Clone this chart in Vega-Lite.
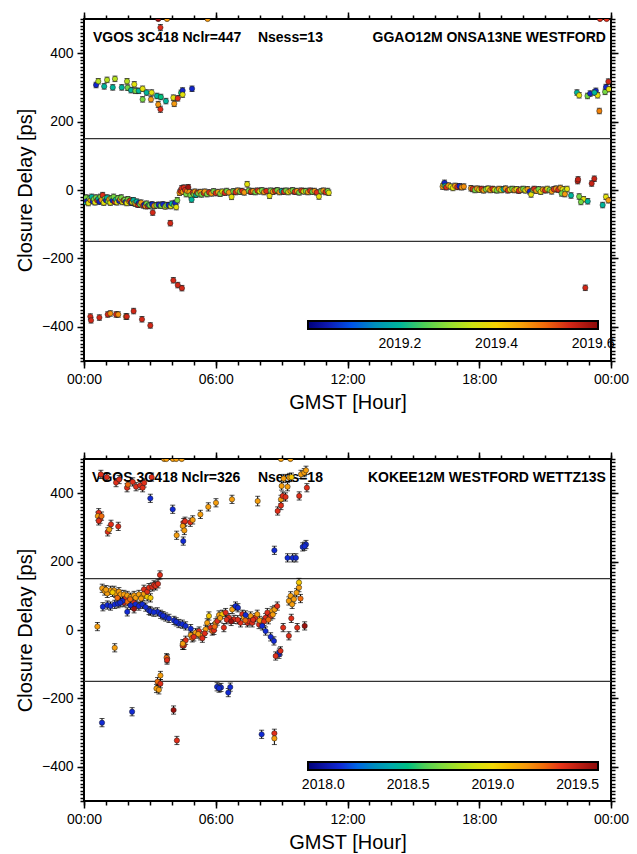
{
"$schema":"https://vega.github.io/schema/vega-lite/v6.json",
"background":"white",
"padding":{"left":14,"top":10,"right":0,"bottom":0},
"spacing":98,
"bounds":"flush",
"config":{
 "view":{"stroke":"black","strokeWidth":2},
 "axis":{"domain":false,"labelFlush":false,"grid":false,"labelFont":"Liberation Sans","labelFontSize":14,"labelColor":"black","titleFont":"Liberation Sans","titleFontSize":20,"titleFontWeight":"normal","titleColor":"black"},
 "legend":{"labelFont":"Liberation Sans","labelFontSize":14,"labelColor":"black"},
 "text":{"font":"Liberation Sans","fontWeight":"bold","fontSize":14,"color":"black"}
},
"resolve":{"scale":{"color":"independent"},"legend":{"color":"independent"}},
"datasets":{
"p1":[
{"h":0.55,"v":307,"e":8,"t":2019.07},{"h":0.65,"v":318,"e":8,"t":2019.33},{"h":0.92,"v":303,"e":8,"t":2019.2},{"h":1.05,"v":322,"e":8,"t":2019.33},{"h":1.31,"v":300,"e":8,"t":2019.2},{"h":1.41,"v":325,"e":8,"t":2019.33},{"h":1.72,"v":300,"e":8,"t":2019.2},{"h":1.96,"v":318,"e":8,"t":2019.33},{"h":1.99,"v":299,"e":8,"t":2019.28},{"h":2.14,"v":292,"e":8,"t":2019.2},{"h":2.29,"v":309,"e":8,"t":2019.37},{"h":2.34,"v":290,"e":8,"t":2019.28},{"h":2.49,"v":290,"e":8,"t":2019.2},{"h":2.67,"v":296,"e":8,"t":2019.37},{"h":2.67,"v":265,"e":8,"t":2019.28},{"h":2.85,"v":285,"e":8,"t":2019.2},{"h":3.05,"v":265,"e":8,"t":2019.46},{"h":3.08,"v":285,"e":8,"t":2019.37},{"h":3.32,"v":275,"e":8,"t":2019.2},{"h":3.38,"v":250,"e":9,"t":2019.46},{"h":3.48,"v":236,"e":9,"t":2019.54},{"h":3.5,"v":272,"e":8,"t":2019.22},{"h":3.73,"v":260,"e":8,"t":2019.2},{"h":4.07,"v":270,"e":8,"t":2019.37},{"h":4.11,"v":252,"e":8,"t":2019.46},{"h":4.27,"v":268,"e":8,"t":2019.54},{"h":4.42,"v":284,"e":8,"t":2019.22},{"h":4.49,"v":291,"e":8,"t":2019.07},{"h":4.49,"v":279,"e":8,"t":2019.37},{"h":4.92,"v":296,"e":8,"t":2019.07},
{"h":3.38,"v":500,"e":0,"t":2019.6},{"h":3.48,"v":475,"e":9,"t":2019.54},{"h":3.78,"v":500,"e":0,"t":2019.46},{"h":5.63,"v":500,"e":0,"t":2019.46},{"h":23.5,"v":500,"e":0,"t":2019.54},{"h":23.8,"v":500,"e":0,"t":2019.54},
{"h":22.45,"v":285,"e":8,"t":2019.2},{"h":22.55,"v":277,"e":8,"t":2019.37},{"h":22.93,"v":275,"e":8,"t":2019.28},{"h":23.05,"v":282,"e":8,"t":2019.07},{"h":23.31,"v":290,"e":8,"t":2019.07},{"h":23.39,"v":277,"e":8,"t":2019.37},{"h":23.25,"v":285,"e":8,"t":2019.2},{"h":23.47,"v":231,"e":8,"t":2019.48},{"h":23.73,"v":287,"e":8,"t":2019.28},{"h":23.77,"v":301,"e":8,"t":2019.07},{"h":23.88,"v":317,"e":8,"t":2019.55},{"h":23.9,"v":295,"e":8,"t":2019.37},
{"h":0.29,"v":-370,"e":8,"t":2019.55},{"h":0.32,"v":-381,"e":8,"t":2019.55},{"h":0.7,"v":-373,"e":8,"t":2019.55},{"h":1.08,"v":-364,"e":8,"t":2019.55},{"h":1.2,"v":-361,"e":8,"t":2019.47},{"h":1.46,"v":-364,"e":8,"t":2019.55},{"h":1.56,"v":-364,"e":8,"t":2019.47},{"h":1.91,"v":-370,"e":8,"t":2019.47},{"h":1.95,"v":-370,"e":8,"t":2019.55},{"h":2.26,"v":-354,"e":8,"t":2019.55},{"h":2.64,"v":-378,"e":8,"t":2019.55},{"h":3.02,"v":-396,"e":8,"t":2019.55},{"h":4.07,"v":-264,"e":8,"t":2019.55},{"h":4.27,"v":-278,"e":8,"t":2019.55},{"h":4.46,"v":-287,"e":8,"t":2019.55},{"h":22.83,"v":-286,"e":8,"t":2019.55},
{"h":3.13,"v":-66,"e":8,"t":2019.55},{"h":3.93,"v":-97,"e":8,"t":2019.55},
{"h":0.02,"v":-35,"e":8,"t":2019.2},{"h":0.05,"v":-28,"e":8,"t":2019.07},{"h":0.1,"v":-22,"e":8,"t":2019.28},{"h":0.15,"v":-32,"e":8,"t":2019.07},{"h":0.2,"v":-38,"e":8,"t":2019.37},{"h":0.25,"v":-25,"e":8,"t":2019.28},{"h":0.3,"v":-30,"e":8,"t":2019.46},{"h":0.35,"v":-20,"e":8,"t":2019.2},{"h":0.4,"v":-33,"e":8,"t":2019.07},{"h":0.45,"v":-27,"e":8,"t":2019.28},{"h":0.5,"v":-36,"e":8,"t":2019.37},{"h":0.55,"v":-22,"e":8,"t":2019.28},{"h":0.6,"v":-30,"e":8,"t":2019.54},{"h":0.65,"v":-26,"e":8,"t":2019.2},{"h":0.7,"v":-34,"e":8,"t":2019.07},{"h":0.75,"v":-20,"e":8,"t":2019.28},{"h":0.8,"v":-29,"e":8,"t":2019.46},{"h":0.85,"v":-15,"e":8,"t":2019.54},{"h":0.9,"v":-37,"e":8,"t":2019.37},{"h":0.95,"v":-25,"e":8,"t":2019.28},{"h":1.0,"v":-30,"e":8,"t":2019.07},{"h":1.05,"v":-22,"e":8,"t":2019.2},{"h":1.1,"v":-33,"e":8,"t":2019.28},{"h":1.15,"v":-27,"e":8,"t":2019.46},{"h":1.2,"v":-37,"e":8,"t":2019.37},{"h":1.25,"v":-24,"e":8,"t":2019.28},{"h":1.3,"v":-31,"e":8,"t":2019.07},{"h":1.35,"v":-20,"e":8,"t":2019.28},{"h":1.4,"v":-34,"e":8,"t":2019.54},{"h":1.45,"v":-28,"e":8,"t":2019.2},{"h":1.5,"v":-36,"e":8,"t":2019.37},{"h":1.55,"v":-24,"e":8,"t":2019.28},{"h":1.6,"v":-32,"e":8,"t":2019.07},{"h":1.65,"v":-27,"e":8,"t":2019.46},{"h":1.7,"v":-22,"e":8,"t":2019.28},{"h":1.75,"v":-35,"e":8,"t":2019.37},{"h":1.8,"v":-30,"e":8,"t":2019.54},{"h":1.85,"v":-29,"e":8,"t":2019.28},{"h":1.9,"v":-35,"e":8,"t":2019.07},{"h":1.95,"v":-38,"e":8,"t":2019.37},{"h":2.0,"v":-27,"e":8,"t":2019.28},{"h":2.05,"v":-33,"e":8,"t":2019.46},{"h":2.1,"v":-31,"e":8,"t":2019.54},{"h":2.15,"v":-37,"e":8,"t":2019.07},{"h":2.2,"v":-36,"e":8,"t":2019.37},{"h":2.25,"v":-30,"e":8,"t":2019.2},{"h":2.3,"v":-38,"e":8,"t":2019.28},{"h":2.35,"v":-40,"e":8,"t":2019.46},{"h":2.4,"v":-34,"e":8,"t":2019.2},{"h":2.45,"v":-43,"e":8,"t":2019.54},{"h":2.5,"v":-38,"e":8,"t":2019.07},{"h":2.55,"v":-42,"e":8,"t":2019.28},{"h":2.6,"v":-37,"e":8,"t":2019.46},{"h":2.7,"v":-45,"e":8,"t":2019.54},{"h":2.75,"v":-43,"e":8,"t":2019.07},{"h":2.8,"v":-47,"e":8,"t":2019.46},{"h":2.85,"v":-40,"e":8,"t":2019.28},{"h":2.9,"v":-47,"e":8,"t":2019.54},{"h":2.95,"v":-44,"e":8,"t":2019.2},{"h":3.0,"v":-45,"e":8,"t":2019.28},{"h":3.1,"v":-42,"e":8,"t":2019.07},{"h":3.2,"v":-46,"e":8,"t":2019.46},{"h":3.3,"v":-45,"e":8,"t":2019.28},{"h":3.4,"v":-43,"e":8,"t":2019.07},{"h":3.5,"v":-46,"e":8,"t":2019.28},{"h":3.6,"v":-42,"e":8,"t":2019.07},{"h":3.7,"v":-48,"e":8,"t":2019.37},{"h":3.75,"v":-45,"e":8,"t":2019.28},{"h":3.85,"v":-44,"e":8,"t":2019.07},{"h":3.95,"v":-47,"e":8,"t":2019.37},{"h":4.0,"v":-40,"e":8,"t":2019.2},{"h":4.1,"v":-44,"e":8,"t":2019.28},{"h":4.15,"v":-38,"e":8,"t":2019.07},{"h":4.2,"v":-50,"e":8,"t":2019.37},{"h":4.25,"v":-30,"e":8,"t":2019.28},
{"h":4.35,"v":-8,"e":8,"t":2019.46},{"h":4.4,"v":-3,"e":8,"t":2019.54},{"h":4.45,"v":5,"e":8,"t":2019.54},{"h":4.5,"v":-5,"e":8,"t":2019.46},{"h":4.55,"v":7,"e":8,"t":2019.54},{"h":4.6,"v":0,"e":8,"t":2019.54},{"h":4.65,"v":-12,"e":8,"t":2019.28},{"h":4.7,"v":-3,"e":8,"t":2019.46},{"h":4.75,"v":8,"e":8,"t":2019.59},{"h":4.8,"v":-6,"e":8,"t":2019.46},{"h":4.85,"v":-15,"e":8,"t":2019.28},{"h":4.9,"v":-28,"e":8,"t":2019.2},{"h":4.95,"v":-8,"e":8,"t":2019.54},{"h":5.0,"v":-12,"e":8,"t":2019.28},{"h":5.05,"v":-5,"e":8,"t":2019.46},{"h":5.1,"v":-14,"e":8,"t":2019.2},{"h":5.15,"v":-8,"e":8,"t":2019.54},{"h":5.2,"v":-10,"e":8,"t":2019.28},{"h":5.3,"v":-6,"e":8,"t":2019.46},{"h":5.35,"v":-13,"e":8,"t":2019.28},{"h":5.45,"v":-9,"e":8,"t":2019.54},{"h":5.5,"v":-5,"e":8,"t":2019.46},{"h":5.6,"v":-12,"e":8,"t":2019.28},{"h":5.7,"v":-7,"e":8,"t":2019.54},{"h":5.8,"v":-10,"e":8,"t":2019.46},{"h":5.9,"v":-4,"e":8,"t":2019.28},{"h":6.0,"v":-9,"e":8,"t":2019.54},{"h":6.1,"v":-6,"e":8,"t":2019.46},{"h":6.2,"v":-11,"e":8,"t":2019.28},{"h":6.3,"v":-5,"e":8,"t":2019.37},{"h":6.4,"v":-8,"e":8,"t":2019.54},{"h":6.5,"v":-3,"e":8,"t":2019.28},{"h":6.6,"v":-7,"e":8,"t":2019.46},{"h":6.72,"v":-20,"e":8,"t":2019.37},{"h":6.8,"v":-4,"e":8,"t":2019.28},{"h":6.9,"v":-6,"e":8,"t":2019.54},{"h":7.0,"v":-2,"e":8,"t":2019.46},{"h":7.1,"v":-5,"e":8,"t":2019.28},{"h":7.2,"v":-3,"e":8,"t":2019.54},{"h":7.3,"v":-7,"e":8,"t":2019.46},{"h":7.43,"v":17,"e":8,"t":2019.37},{"h":7.5,"v":-2,"e":8,"t":2019.28},{"h":7.6,"v":-5,"e":8,"t":2019.54},{"h":7.7,"v":-3,"e":8,"t":2019.46},{"h":7.8,"v":-6,"e":8,"t":2019.28},{"h":7.9,"v":-2,"e":8,"t":2019.54},{"h":8.0,"v":-4,"e":8,"t":2019.37},{"h":8.1,"v":-1,"e":8,"t":2019.28},{"h":8.2,"v":-6,"e":8,"t":2019.46},{"h":8.3,"v":-3,"e":8,"t":2019.54},{"h":8.45,"v":-17,"e":8,"t":2019.37},{"h":8.5,"v":-2,"e":8,"t":2019.28},{"h":8.6,"v":-5,"e":8,"t":2019.46},{"h":8.7,"v":-3,"e":8,"t":2019.54},{"h":8.8,"v":-1,"e":8,"t":2019.28},{"h":8.9,"v":-6,"e":8,"t":2019.46},{"h":9.0,"v":-3,"e":8,"t":2019.2},{"h":9.1,"v":-5,"e":8,"t":2019.54},{"h":9.2,"v":-2,"e":8,"t":2019.28},{"h":9.3,"v":-6,"e":8,"t":2019.37},{"h":9.4,"v":-3,"e":8,"t":2019.46},{"h":9.5,"v":-1,"e":8,"t":2019.28},{"h":9.6,"v":-5,"e":8,"t":2019.54},{"h":9.7,"v":-3,"e":8,"t":2019.46},{"h":9.8,"v":-7,"e":8,"t":2019.28},{"h":9.9,"v":-2,"e":8,"t":2019.54},{"h":10.0,"v":-4,"e":8,"t":2019.37},{"h":10.1,"v":-3,"e":8,"t":2019.28},{"h":10.2,"v":-6,"e":8,"t":2019.46},{"h":10.3,"v":-2,"e":8,"t":2019.54},{"h":10.4,"v":-5,"e":8,"t":2019.28},{"h":10.5,"v":-3,"e":8,"t":2019.46},{"h":10.6,"v":-7,"e":8,"t":2019.54},{"h":10.7,"v":-19,"e":8,"t":2019.37},{"h":10.8,"v":-4,"e":8,"t":2019.28},{"h":10.9,"v":-2,"e":8,"t":2019.46},{"h":11.0,"v":-6,"e":8,"t":2019.54},{"h":11.1,"v":-3,"e":8,"t":2019.28},{"h":11.15,"v":-8,"e":8,"t":2019.37},
{"h":16.33,"v":10,"e":8,"t":2019.46},{"h":16.38,"v":15,"e":8,"t":2019.37},{"h":16.42,"v":21,"e":8,"t":2019.07},{"h":16.45,"v":12,"e":8,"t":2019.2},{"h":16.5,"v":8,"e":8,"t":2019.54},{"h":16.6,"v":13,"e":8,"t":2019.46},{"h":16.7,"v":10,"e":8,"t":2019.37},{"h":16.8,"v":6,"e":8,"t":2019.37},{"h":16.9,"v":12,"e":8,"t":2019.46},{"h":17.0,"v":9,"e":8,"t":2019.54},{"h":17.1,"v":11,"e":8,"t":2019.07},{"h":17.2,"v":8,"e":8,"t":2019.46},{"h":17.3,"v":10,"e":8,"t":2019.47},
{"h":17.62,"v":5,"e":8,"t":2019.46},{"h":17.7,"v":3,"e":8,"t":2019.54},{"h":17.8,"v":0,"e":8,"t":2019.28},{"h":17.9,"v":4,"e":8,"t":2019.46},{"h":18.0,"v":1,"e":8,"t":2019.37},{"h":18.1,"v":3,"e":8,"t":2019.54},{"h":18.2,"v":-1,"e":8,"t":2019.46},{"h":18.3,"v":2,"e":8,"t":2019.28},{"h":18.4,"v":4,"e":8,"t":2019.37},{"h":18.5,"v":0,"e":8,"t":2019.46},{"h":18.6,"v":3,"e":8,"t":2019.54},{"h":18.7,"v":1,"e":8,"t":2019.37},{"h":18.8,"v":-1,"e":8,"t":2019.28},{"h":18.9,"v":3,"e":8,"t":2019.46},{"h":19.0,"v":0,"e":8,"t":2019.37},{"h":19.1,"v":2,"e":8,"t":2019.2},{"h":19.2,"v":4,"e":8,"t":2019.46},{"h":19.3,"v":-1,"e":8,"t":2019.54},{"h":19.4,"v":1,"e":8,"t":2019.37},{"h":19.5,"v":3,"e":8,"t":2019.28},{"h":19.6,"v":0,"e":8,"t":2019.46},{"h":19.7,"v":2,"e":8,"t":2019.37},{"h":19.8,"v":-2,"e":8,"t":2019.54},{"h":19.9,"v":1,"e":8,"t":2019.46},{"h":20.0,"v":3,"e":8,"t":2019.28},{"h":20.1,"v":-1,"e":8,"t":2019.37},{"h":20.2,"v":2,"e":8,"t":2019.46},{"h":20.3,"v":-4,"e":8,"t":2019.07},{"h":20.36,"v":-13,"e":8,"t":2019.37},{"h":20.45,"v":0,"e":8,"t":2019.28},{"h":20.5,"v":3,"e":8,"t":2019.54},{"h":20.6,"v":-2,"e":8,"t":2019.46},{"h":20.7,"v":2,"e":8,"t":2019.28},{"h":20.8,"v":-5,"e":8,"t":2019.37},{"h":20.9,"v":1,"e":8,"t":2019.46},{"h":21.0,"v":-1,"e":8,"t":2019.54},{"h":21.1,"v":3,"e":8,"t":2019.37},{"h":21.2,"v":0,"e":8,"t":2019.28},{"h":21.3,"v":-4,"e":8,"t":2019.46},{"h":21.4,"v":2,"e":8,"t":2019.54},{"h":21.5,"v":4,"e":8,"t":2019.46},{"h":21.6,"v":1,"e":8,"t":2019.54},{"h":21.7,"v":6,"e":8,"t":2019.46},{"h":21.8,"v":2,"e":8,"t":2019.37},{"h":21.9,"v":-3,"e":8,"t":2019.28},{"h":22.0,"v":3,"e":8,"t":2019.37},
{"h":22.48,"v":26,"e":8,"t":2019.56},{"h":22.5,"v":31,"e":8,"t":2019.56},{"h":23.24,"v":33,"e":8,"t":2019.56},{"h":23.12,"v":19,"e":8,"t":2019.56},{"h":22.18,"v":-16,"e":8,"t":2019.2},{"h":22.55,"v":-19,"e":8,"t":2019.28},{"h":22.75,"v":-27,"e":8,"t":2019.37},{"h":22.63,"v":-35,"e":8,"t":2019.28},{"h":22.94,"v":-33,"e":8,"t":2019.2},{"h":23.62,"v":-44,"e":8,"t":2019.2},{"h":23.77,"v":-20,"e":8,"t":2019.37},{"h":23.88,"v":-30,"e":8,"t":2019.46},{"h":21.75,"v":-10,"e":8,"t":2019.28},{"h":21.9,"v":-12,"e":8,"t":2019.46}
],
"p2":[
{"h":3.65,"v":500,"e":0,"t":2019.18},{"h":3.75,"v":500,"e":0,"t":2019.18},{"h":4.05,"v":500,"e":0,"t":2019.18},{"h":4.2,"v":500,"e":0,"t":2019.18},{"h":4.45,"v":500,"e":0,"t":2019.18},{"h":8.97,"v":500,"e":0,"t":2019.18},{"h":9.4,"v":500,"e":0,"t":2019.18},
{"h":0.67,"v":343,"e":12,"t":2019.42},{"h":0.63,"v":333,"e":12,"t":2019.18},{"h":0.73,"v":324,"e":12,"t":2019.42},{"h":0.67,"v":319,"e":12,"t":2019.42},{"h":0.8,"v":333,"e":12,"t":2019.3},{"h":1.08,"v":287,"e":12,"t":2019.42},{"h":1.15,"v":294,"e":12,"t":2019.18},{"h":1.23,"v":309,"e":12,"t":2019.42},{"h":1.56,"v":303,"e":12,"t":2019.42},
{"h":0.77,"v":455,"e":12,"t":2019.42},{"h":1.04,"v":447,"e":12,"t":2019.42},{"h":1.46,"v":431,"e":12,"t":2019.42},{"h":1.96,"v":416,"e":12,"t":2019.42},{"h":2.22,"v":433,"e":12,"t":2019.42},{"h":2.37,"v":419,"e":12,"t":2019.42},{"h":2.56,"v":423,"e":12,"t":2019.42},{"h":2.67,"v":416,"e":12,"t":2019.42},{"h":2.74,"v":430,"e":12,"t":2019.42},{"h":3.08,"v":447,"e":12,"t":2019.42},{"h":1.6,"v":440,"e":12,"t":2019.42},{"h":2.0,"v":425,"e":12,"t":2019.3},
{"h":3.02,"v":385,"e":12,"t":2018.1},{"h":4.04,"v":353,"e":12,"t":2018.1},{"h":4.22,"v":277,"e":12,"t":2019.18},{"h":4.52,"v":260,"e":12,"t":2018.1},{"h":4.54,"v":314,"e":12,"t":2019.42},{"h":4.5,"v":304,"e":12,"t":2019.18},{"h":4.57,"v":291,"e":12,"t":2019.18},{"h":4.6,"v":318,"e":12,"t":2019.42},{"h":4.84,"v":315,"e":12,"t":2019.42},{"h":4.95,"v":322,"e":12,"t":2019.18},{"h":5.3,"v":338,"e":12,"t":2019.18},{"h":5.66,"v":360,"e":12,"t":2019.18},{"h":6.01,"v":372,"e":12,"t":2019.18},{"h":6.74,"v":382,"e":12,"t":2019.18},{"h":7.91,"v":377,"e":14,"t":2019.18},
{"h":8.82,"v":348,"e":12,"t":2019.42},{"h":8.97,"v":364,"e":12,"t":2019.42},{"h":8.97,"v":382,"e":12,"t":2019.18},{"h":9.05,"v":392,"e":12,"t":2019.42},{"h":9.18,"v":389,"e":12,"t":2019.42},{"h":9.0,"v":421,"e":12,"t":2019.18},{"h":9.09,"v":443,"e":12,"t":2019.18},{"h":9.27,"v":419,"e":12,"t":2019.18},{"h":9.35,"v":446,"e":12,"t":2019.18},{"h":9.45,"v":447,"e":12,"t":2019.05},{"h":9.8,"v":392,"e":12,"t":2019.42},{"h":9.88,"v":455,"e":12,"t":2019.18},{"h":10.03,"v":460,"e":12,"t":2019.18},{"h":10.11,"v":467,"e":12,"t":2019.18},{"h":10.15,"v":416,"e":12,"t":2019.42},
{"h":8.67,"v":233,"e":12,"t":2018.1},{"h":9.27,"v":211,"e":12,"t":2018.1},{"h":9.5,"v":211,"e":12,"t":2018.1},{"h":9.65,"v":211,"e":12,"t":2018.1},{"h":9.96,"v":243,"e":12,"t":2018.1},{"h":10.11,"v":250,"e":12,"t":2018.1},{"h":10.05,"v":245,"e":12,"t":2018.1},
{"h":0.83,"v":122,"e":12,"t":2019.18},{"h":0.94,"v":114,"e":12,"t":2019.18},{"h":1.06,"v":107,"e":12,"t":2019.18},{"h":1.21,"v":116,"e":12,"t":2019.18},{"h":1.37,"v":116,"e":12,"t":2019.18},{"h":1.44,"v":107,"e":12,"t":2019.18},{"h":1.59,"v":112,"e":12,"t":2019.18},{"h":1.67,"v":104,"e":12,"t":2019.18},{"h":1.52,"v":94,"e":12,"t":2019.3},{"h":1.82,"v":104,"e":12,"t":2019.18},{"h":1.9,"v":93,"e":12,"t":2019.42},{"h":1.97,"v":101,"e":12,"t":2019.18},{"h":2.12,"v":96,"e":12,"t":2019.18},{"h":2.28,"v":101,"e":12,"t":2019.18},{"h":2.35,"v":94,"e":12,"t":2019.18},{"h":2.5,"v":104,"e":12,"t":2019.18},{"h":2.66,"v":97,"e":12,"t":2019.18},{"h":2.73,"v":106,"e":12,"t":2019.18},{"h":2.88,"v":97,"e":12,"t":2019.05},{"h":3.03,"v":94,"e":12,"t":2019.05},{"h":1.82,"v":80,"e":12,"t":2019.42},{"h":1.97,"v":83,"e":12,"t":2019.3},{"h":2.28,"v":80,"e":12,"t":2019.42},{"h":2.1,"v":90,"e":12,"t":2019.3},{"h":2.6,"v":92,"e":12,"t":2019.18},{"h":1.0,"v":118,"e":12,"t":2019.18},{"h":1.3,"v":110,"e":12,"t":2019.05},
{"h":2.73,"v":119,"e":12,"t":2019.42},{"h":2.88,"v":112,"e":12,"t":2019.42},{"h":2.96,"v":124,"e":12,"t":2019.42},{"h":3.11,"v":126,"e":12,"t":2019.42},{"h":3.19,"v":132,"e":12,"t":2019.42},{"h":3.26,"v":129,"e":12,"t":2019.42},{"h":3.37,"v":135,"e":12,"t":2019.42},{"h":3.46,"v":161,"e":12,"t":2019.42},
{"h":0.86,"v":68,"e":12,"t":2018.1},{"h":1.06,"v":73,"e":12,"t":2018.1},{"h":1.21,"v":70,"e":12,"t":2018.1},{"h":1.4,"v":75,"e":12,"t":2018.1},{"h":1.55,"v":77,"e":12,"t":2018.1},{"h":1.75,"v":85,"e":12,"t":2018.1},{"h":1.97,"v":53,"e":12,"t":2018.1},{"h":2.12,"v":72,"e":12,"t":2018.1},{"h":2.35,"v":75,"e":12,"t":2018.1},{"h":2.5,"v":70,"e":12,"t":2018.1},{"h":2.66,"v":75,"e":12,"t":2018.1},{"h":2.81,"v":67,"e":12,"t":2018.1},{"h":2.96,"v":57,"e":12,"t":2018.1},{"h":3.03,"v":55,"e":12,"t":2018.1},{"h":3.34,"v":53,"e":12,"t":2018.1},{"h":3.49,"v":46,"e":12,"t":2018.1},{"h":3.72,"v":38,"e":12,"t":2018.1},{"h":3.87,"v":34,"e":12,"t":2018.1},{"h":4.1,"v":28,"e":12,"t":2018.1},{"h":4.32,"v":19,"e":12,"t":2018.1},{"h":4.48,"v":17,"e":12,"t":2018.1},{"h":4.63,"v":12,"e":12,"t":2018.1},{"h":4.86,"v":4,"e":12,"t":2018.1},{"h":2.28,"v":62,"e":12,"t":2019.58},{"h":3.18,"v":52,"e":12,"t":2018.1},{"h":3.6,"v":42,"e":12,"t":2018.1},{"h":4.2,"v":24,"e":12,"t":2018.1},{"h":1.65,"v":80,"e":12,"t":2018.1},
{"h":0.61,"v":10,"e":12,"t":2019.18},{"h":1.4,"v":-52,"e":12,"t":2019.18},{"h":3.79,"v":-84,"e":12,"t":2019.42},{"h":3.76,"v":-81,"e":12,"t":2019.3},{"h":3.78,"v":-88,"e":12,"t":2019.42},
{"h":4.55,"v":-45,"e":12,"t":2019.42},{"h":4.63,"v":-30,"e":12,"t":2019.42},{"h":4.86,"v":-15,"e":12,"t":2019.18},{"h":4.93,"v":-23,"e":12,"t":2019.3},{"h":5.08,"v":-8,"e":12,"t":2019.18},{"h":5.24,"v":-3,"e":12,"t":2019.42},{"h":5.31,"v":-17,"e":12,"t":2019.18},{"h":5.39,"v":-24,"e":12,"t":2019.42},{"h":5.54,"v":2,"e":12,"t":2019.18},{"h":5.61,"v":21,"e":12,"t":2019.18},{"h":5.69,"v":41,"e":12,"t":2019.05},{"h":5.77,"v":7,"e":12,"t":2019.42},{"h":5.84,"v":-3,"e":12,"t":2019.3},{"h":5.92,"v":-1,"e":12,"t":2019.42},{"h":6.0,"v":21,"e":12,"t":2019.18},{"h":6.07,"v":26,"e":12,"t":2019.42},{"h":6.15,"v":44,"e":12,"t":2019.18},{"h":6.3,"v":46,"e":12,"t":2019.05},{"h":6.37,"v":7,"e":12,"t":2019.42},{"h":6.45,"v":51,"e":12,"t":2019.42},{"h":6.6,"v":36,"e":12,"t":2019.42},{"h":6.75,"v":60,"e":12,"t":2019.18},{"h":6.83,"v":31,"e":12,"t":2019.42},{"h":6.9,"v":70,"e":12,"t":2018.1},{"h":7.01,"v":65,"e":12,"t":2018.1},{"h":7.13,"v":21,"e":12,"t":2019.42},{"h":7.21,"v":46,"e":12,"t":2019.42},{"h":7.28,"v":36,"e":12,"t":2019.18},{"h":7.44,"v":21,"e":12,"t":2019.42},{"h":7.51,"v":26,"e":12,"t":2019.42},{"h":7.59,"v":41,"e":12,"t":2019.18},{"h":7.66,"v":21,"e":12,"t":2019.42},{"h":7.81,"v":36,"e":12,"t":2019.42},{"h":7.89,"v":46,"e":12,"t":2019.18},{"h":7.97,"v":16,"e":12,"t":2019.42},{"h":8.12,"v":21,"e":12,"t":2019.42},{"h":8.27,"v":36,"e":12,"t":2019.42},{"h":8.35,"v":51,"e":12,"t":2019.42},{"h":8.5,"v":41,"e":12,"t":2019.42},{"h":8.57,"v":56,"e":12,"t":2019.18},{"h":8.68,"v":60,"e":12,"t":2019.18},{"h":8.8,"v":70,"e":12,"t":2019.42},
{"h":6.5,"v":30,"e":12,"t":2019.42},{"h":6.7,"v":25,"e":12,"t":2019.58},{"h":7.0,"v":30,"e":12,"t":2019.42},{"h":7.35,"v":28,"e":12,"t":2019.3},{"h":7.7,"v":30,"e":12,"t":2019.42},{"h":8.0,"v":28,"e":12,"t":2019.18},{"h":8.2,"v":25,"e":12,"t":2019.42},{"h":8.4,"v":30,"e":12,"t":2019.3},{"h":8.6,"v":45,"e":12,"t":2019.18},{"h":6.2,"v":35,"e":12,"t":2019.18},{"h":5.95,"v":10,"e":12,"t":2019.3},{"h":5.5,"v":-10,"e":12,"t":2019.42},{"h":5.2,"v":-12,"e":12,"t":2019.18},{"h":5.0,"v":-20,"e":12,"t":2019.42},
{"h":7.36,"v":44,"e":12,"t":2018.1},{"h":8.12,"v":12,"e":12,"t":2018.1},{"h":8.27,"v":-3,"e":12,"t":2018.1},{"h":8.5,"v":-20,"e":12,"t":2018.1},{"h":8.65,"v":-32,"e":12,"t":2018.1},{"h":8.88,"v":-71,"e":12,"t":2018.1},{"h":8.9,"v":-65,"e":12,"t":2018.1},
{"h":8.95,"v":-61,"e":12,"t":2019.42},{"h":8.73,"v":-76,"e":12,"t":2019.42},{"h":9.07,"v":7,"e":12,"t":2019.42},{"h":9.33,"v":-17,"e":12,"t":2019.42},{"h":9.44,"v":34,"e":12,"t":2019.42},{"h":9.71,"v":7,"e":12,"t":2019.42},{"h":10.05,"v":12,"e":12,"t":2019.58},
{"h":9.33,"v":85,"e":12,"t":2019.18},{"h":9.41,"v":100,"e":12,"t":2019.18},{"h":9.48,"v":75,"e":12,"t":2019.18},{"h":9.56,"v":90,"e":12,"t":2019.18},{"h":9.68,"v":109,"e":12,"t":2019.18},{"h":9.79,"v":124,"e":12,"t":2019.18},{"h":9.79,"v":139,"e":12,"t":2019.05},{"h":9.86,"v":92,"e":12,"t":2019.3},
{"h":4.49,"v":-45,"e":12,"t":2019.42},{"h":4.5,"v":-40,"e":12,"t":2019.18},{"h":3.48,"v":-133,"e":12,"t":2019.18},{"h":3.35,"v":-151,"e":12,"t":2019.3},{"h":3.48,"v":-157,"e":12,"t":2019.42},{"h":3.3,"v":-171,"e":12,"t":2019.18},{"h":3.41,"v":-175,"e":12,"t":2019.18},{"h":4.08,"v":-234,"e":12,"t":2019.58},{"h":4.23,"v":-323,"e":12,"t":2019.42},{"h":0.82,"v":-271,"e":12,"t":2018.1},{"h":2.19,"v":-239,"e":12,"t":2018.1},{"h":6.06,"v":-166,"e":12,"t":2018.1},{"h":6.24,"v":-168,"e":12,"t":2018.1},{"h":6.15,"v":-170,"e":12,"t":2018.1},{"h":6.57,"v":-183,"e":12,"t":2018.1},{"h":6.66,"v":-167,"e":12,"t":2018.1},{"h":8.09,"v":-305,"e":12,"t":2018.1},{"h":8.67,"v":-302,"e":12,"t":2019.42},{"h":8.67,"v":-317,"e":18,"t":2019.18}
]
},
"vconcat":[
{
 "width":527,"height":342,
 "data":{"name":"p1"},
 "resolve":{"axis":{"x":"independent","y":"independent"}},
 "layer":[
  {"data":{"values":[{"lim":150},{"lim":-150}]},
   "mark":{"type":"rule","color":"#333333","strokeWidth":1.2},
   "encoding":{"y":{"field":"lim","type":"quantitative","scale":{"domain":[-500,500],"nice":false,"zero":false},
     "axis":{"orient":"left","values":[-400,-200,0,200,400],"tickColor":"#000000","tickWidth":1.5,"tickSize":7,"labelPadding":4,"title":"Closure Delay [ps]","titlePadding":6}}}},
  {"data":{"values":[{}]},
   "mark":{"type":"text","text":"VGOS 3C418 Nclr=447","align":"left","baseline":"middle"},
   "encoding":{
    "x":{"datum":0.41,"type":"quantitative","scale":{"domain":[0,24],"nice":false,"zero":false},
      "axis":{"orient":"bottom","values":[0,6,12,18,24],"tickColor":"#000000","tickWidth":1.5,"tickSize":7,"labelPadding":4,"labelFlush":false,"labelExpr":"datum.value == 24 ? '00:00' : (datum.value < 10 ? '0' : '') + datum.value + ':00'","title":"GMST [Hour]","titlePadding":6}},
    "y":{"datum":445,"type":"quantitative","scale":{"domain":[-500,500],"nice":false,"zero":false},
      "axis":{"orient":"right","values":[-400,-200,0,200,400],"tickColor":"#000000","tickWidth":1.5,"tickSize":7,"labels":false,"title":null}}}},
  {"data":{"values":[{}]},
   "mark":{"type":"text","text":"Nsess=13","align":"left","baseline":"middle"},
   "encoding":{
    "x":{"datum":7.92,"type":"quantitative","scale":{"domain":[0,24],"nice":false,"zero":false},
      "axis":{"orient":"top","values":[0,6,12,18,24],"tickColor":"#000000","tickWidth":1.5,"tickSize":7,"labels":false,"title":null}},
    "y":{"datum":445,"type":"quantitative","scale":{"domain":[-500,500],"nice":false,"zero":false},
      "axis":{"orient":"right","values":[-500,-490,-480,-470,-460,-450,-440,-430,-420,-410,-400,-390,-380,-370,-360,-350,-340,-330,-320,-310,-300,-290,-280,-270,-260,-250,-240,-230,-220,-210,-200,-190,-180,-170,-160,-150,-140,-130,-120,-110,-100,-90,-80,-70,-60,-50,-40,-30,-20,-10,0,10,20,30,40,50,60,70,80,90,100,110,120,130,140,150,160,170,180,190,200,210,220,230,240,250,260,270,280,290,300,310,320,330,340,350,360,370,380,390,400,410,420,430,440,450,460,470,480,490,500],"tickColor":"#000000","tickWidth":1.5,"tickSize":4,"labels":false,"title":null}}}},
  {"data":{"values":[{}]},
   "mark":{"type":"text","text":"GGAO12M ONSA13NE WESTFORD","align":"right","baseline":"middle"},
   "encoding":{
    "x":{"datum":23.77,"type":"quantitative","scale":{"domain":[0,24],"nice":false,"zero":false},
      "axis":{"orient":"top","values":[0,1,2,3,4,5,6,7,8,9,10,11,12,13,14,15,16,17,18,19,20,21,22,23,24],"tickColor":"#000000","tickWidth":1.5,"tickSize":4,"labels":false,"title":null}},
    "y":{"datum":445,"type":"quantitative","scale":{"domain":[-500,500],"nice":false,"zero":false},"axis":null}}},
  {"mark":{"type":"errorbar","ticks":true,"size":5,"thickness":1,"color":"black","clip":true},
   "encoding":{
    "x":{"field":"h","type":"quantitative","scale":{"domain":[0,24],"nice":false,"zero":false},"axis":null},
    "y":{"field":"v","type":"quantitative","scale":{"domain":[-500,500],"nice":false,"zero":false},"axis":null},
    "yError":{"field":"e"}}},
  {"mark":{"type":"circle","size":28,"opacity":1,"stroke":"#1a1a1a","strokeWidth":0.5,"clip":true},
   "encoding":{
    "x":{"field":"h","type":"quantitative","scale":{"domain":[0,24],"nice":false,"zero":false},
      "axis":{"orient":"bottom","values":[0,1,2,3,4,5,6,7,8,9,10,11,12,13,14,15,16,17,18,19,20,21,22,23,24],"tickColor":"#000000","tickWidth":1.5,"tickSize":4,"labels":false,"title":null}},
    "y":{"field":"v","type":"quantitative","scale":{"domain":[-500,500],"nice":false,"zero":false},
      "axis":{"orient":"left","values":[-500,-490,-480,-470,-460,-450,-440,-430,-420,-410,-400,-390,-380,-370,-360,-350,-340,-330,-320,-310,-300,-290,-280,-270,-260,-250,-240,-230,-220,-210,-200,-190,-180,-170,-160,-150,-140,-130,-120,-110,-100,-90,-80,-70,-60,-50,-40,-30,-20,-10,0,10,20,30,40,50,60,70,80,90,100,110,120,130,140,150,160,170,180,190,200,210,220,230,240,250,260,270,280,290,300,310,320,330,340,350,360,370,380,390,400,410,420,430,440,450,460,470,480,490,500],"tickColor":"#000000","tickWidth":1.5,"tickSize":4,"labels":false,"title":null}},
    "color":{"field":"t","type":"quantitative",
      "scale":{"domain":[2019.01,2019.085,2019.16,2019.235,2019.31,2019.385,2019.46,2019.535,2019.61],"range":["#00007a","#1030e0","#1798b0","#35c860","#9ee02a","#f2e010","#f59a10","#e6301a","#8c0a0a"]},
      "legend":{"orient":"none","legendX":224,"legendY":302,"direction":"horizontal","gradientLength":290,"gradientThickness":8,"gradientStrokeColor":"black","gradientStrokeWidth":2,"title":null,"values":[2019.2,2019.4,2019.6],"format":".1f","labelOffset":8,"labelOverlap":false,"padding":0}}}}
 ]
},
{
 "width":527,"height":342,
 "data":{"name":"p2"},
 "resolve":{"axis":{"x":"independent","y":"independent"}},
 "layer":[
  {"data":{"values":[{"lim":150},{"lim":-150}]},
   "mark":{"type":"rule","color":"#333333","strokeWidth":1.2},
   "encoding":{"y":{"field":"lim","type":"quantitative","scale":{"domain":[-500,500],"nice":false,"zero":false},
     "axis":{"orient":"left","values":[-400,-200,0,200,400],"tickColor":"#000000","tickWidth":1.5,"tickSize":7,"labelPadding":4,"title":"Closure Delay [ps]","titlePadding":6}}}},
  {"data":{"values":[{}]},
   "mark":{"type":"text","text":"VGOS 3C418 Nclr=326","align":"left","baseline":"middle"},
   "encoding":{
    "x":{"datum":0.37,"type":"quantitative","scale":{"domain":[0,24],"nice":false,"zero":false},
      "axis":{"orient":"bottom","values":[0,6,12,18,24],"tickColor":"#000000","tickWidth":1.5,"tickSize":7,"labelPadding":4,"labelFlush":false,"labelExpr":"datum.value == 24 ? '00:00' : (datum.value < 10 ? '0' : '') + datum.value + ':00'","title":"GMST [Hour]","titlePadding":6}},
    "y":{"datum":445,"type":"quantitative","scale":{"domain":[-500,500],"nice":false,"zero":false},
      "axis":{"orient":"right","values":[-400,-200,0,200,400],"tickColor":"#000000","tickWidth":1.5,"tickSize":7,"labels":false,"title":null}}}},
  {"data":{"values":[{}]},
   "mark":{"type":"text","text":"Nsess=18","align":"left","baseline":"middle"},
   "encoding":{
    "x":{"datum":7.92,"type":"quantitative","scale":{"domain":[0,24],"nice":false,"zero":false},
      "axis":{"orient":"top","values":[0,6,12,18,24],"tickColor":"#000000","tickWidth":1.5,"tickSize":7,"labels":false,"title":null}},
    "y":{"datum":445,"type":"quantitative","scale":{"domain":[-500,500],"nice":false,"zero":false},
      "axis":{"orient":"right","values":[-500,-490,-480,-470,-460,-450,-440,-430,-420,-410,-400,-390,-380,-370,-360,-350,-340,-330,-320,-310,-300,-290,-280,-270,-260,-250,-240,-230,-220,-210,-200,-190,-180,-170,-160,-150,-140,-130,-120,-110,-100,-90,-80,-70,-60,-50,-40,-30,-20,-10,0,10,20,30,40,50,60,70,80,90,100,110,120,130,140,150,160,170,180,190,200,210,220,230,240,250,260,270,280,290,300,310,320,330,340,350,360,370,380,390,400,410,420,430,440,450,460,470,480,490,500],"tickColor":"#000000","tickWidth":1.5,"tickSize":4,"labels":false,"title":null}}}},
  {"data":{"values":[{}]},
   "mark":{"type":"text","text":"KOKEE12M WESTFORD WETTZ13S","align":"right","baseline":"middle"},
   "encoding":{
    "x":{"datum":23.77,"type":"quantitative","scale":{"domain":[0,24],"nice":false,"zero":false},
      "axis":{"orient":"top","values":[0,1,2,3,4,5,6,7,8,9,10,11,12,13,14,15,16,17,18,19,20,21,22,23,24],"tickColor":"#000000","tickWidth":1.5,"tickSize":4,"labels":false,"title":null}},
    "y":{"datum":445,"type":"quantitative","scale":{"domain":[-500,500],"nice":false,"zero":false},"axis":null}}},
  {"mark":{"type":"errorbar","ticks":true,"size":5,"thickness":1,"color":"black","clip":true},
   "encoding":{
    "x":{"field":"h","type":"quantitative","scale":{"domain":[0,24],"nice":false,"zero":false},"axis":null},
    "y":{"field":"v","type":"quantitative","scale":{"domain":[-500,500],"nice":false,"zero":false},"axis":null},
    "yError":{"field":"e"}}},
  {"mark":{"type":"circle","size":28,"opacity":1,"stroke":"#1a1a1a","strokeWidth":0.5,"clip":true},
   "encoding":{
    "x":{"field":"h","type":"quantitative","scale":{"domain":[0,24],"nice":false,"zero":false},
      "axis":{"orient":"bottom","values":[0,1,2,3,4,5,6,7,8,9,10,11,12,13,14,15,16,17,18,19,20,21,22,23,24],"tickColor":"#000000","tickWidth":1.5,"tickSize":4,"labels":false,"title":null}},
    "y":{"field":"v","type":"quantitative","scale":{"domain":[-500,500],"nice":false,"zero":false},
      "axis":{"orient":"left","values":[-500,-490,-480,-470,-460,-450,-440,-430,-420,-410,-400,-390,-380,-370,-360,-350,-340,-330,-320,-310,-300,-290,-280,-270,-260,-250,-240,-230,-220,-210,-200,-190,-180,-170,-160,-150,-140,-130,-120,-110,-100,-90,-80,-70,-60,-50,-40,-30,-20,-10,0,10,20,30,40,50,60,70,80,90,100,110,120,130,140,150,160,170,180,190,200,210,220,230,240,250,260,270,280,290,300,310,320,330,340,350,360,370,380,390,400,410,420,430,440,450,460,470,480,490,500],"tickColor":"#000000","tickWidth":1.5,"tickSize":4,"labels":false,"title":null}},
    "color":{"field":"t","type":"quantitative",
      "scale":{"domain":[2017.91,2018.12375,2018.3375,2018.55125,2018.765,2018.97875,2019.1925,2019.40625,2019.62],"range":["#00007a","#1030e0","#1798b0","#35c860","#9ee02a","#f2e010","#f59a10","#e6301a","#8c0a0a"]},
      "legend":{"orient":"none","legendX":224,"legendY":303,"direction":"horizontal","gradientLength":290,"gradientThickness":8,"gradientStrokeColor":"black","gradientStrokeWidth":2,"title":null,"values":[2018.0,2018.5,2019.0,2019.5],"format":".1f","labelOffset":8,"labelOverlap":false,"padding":0}}}}
 ]
}
]
}
